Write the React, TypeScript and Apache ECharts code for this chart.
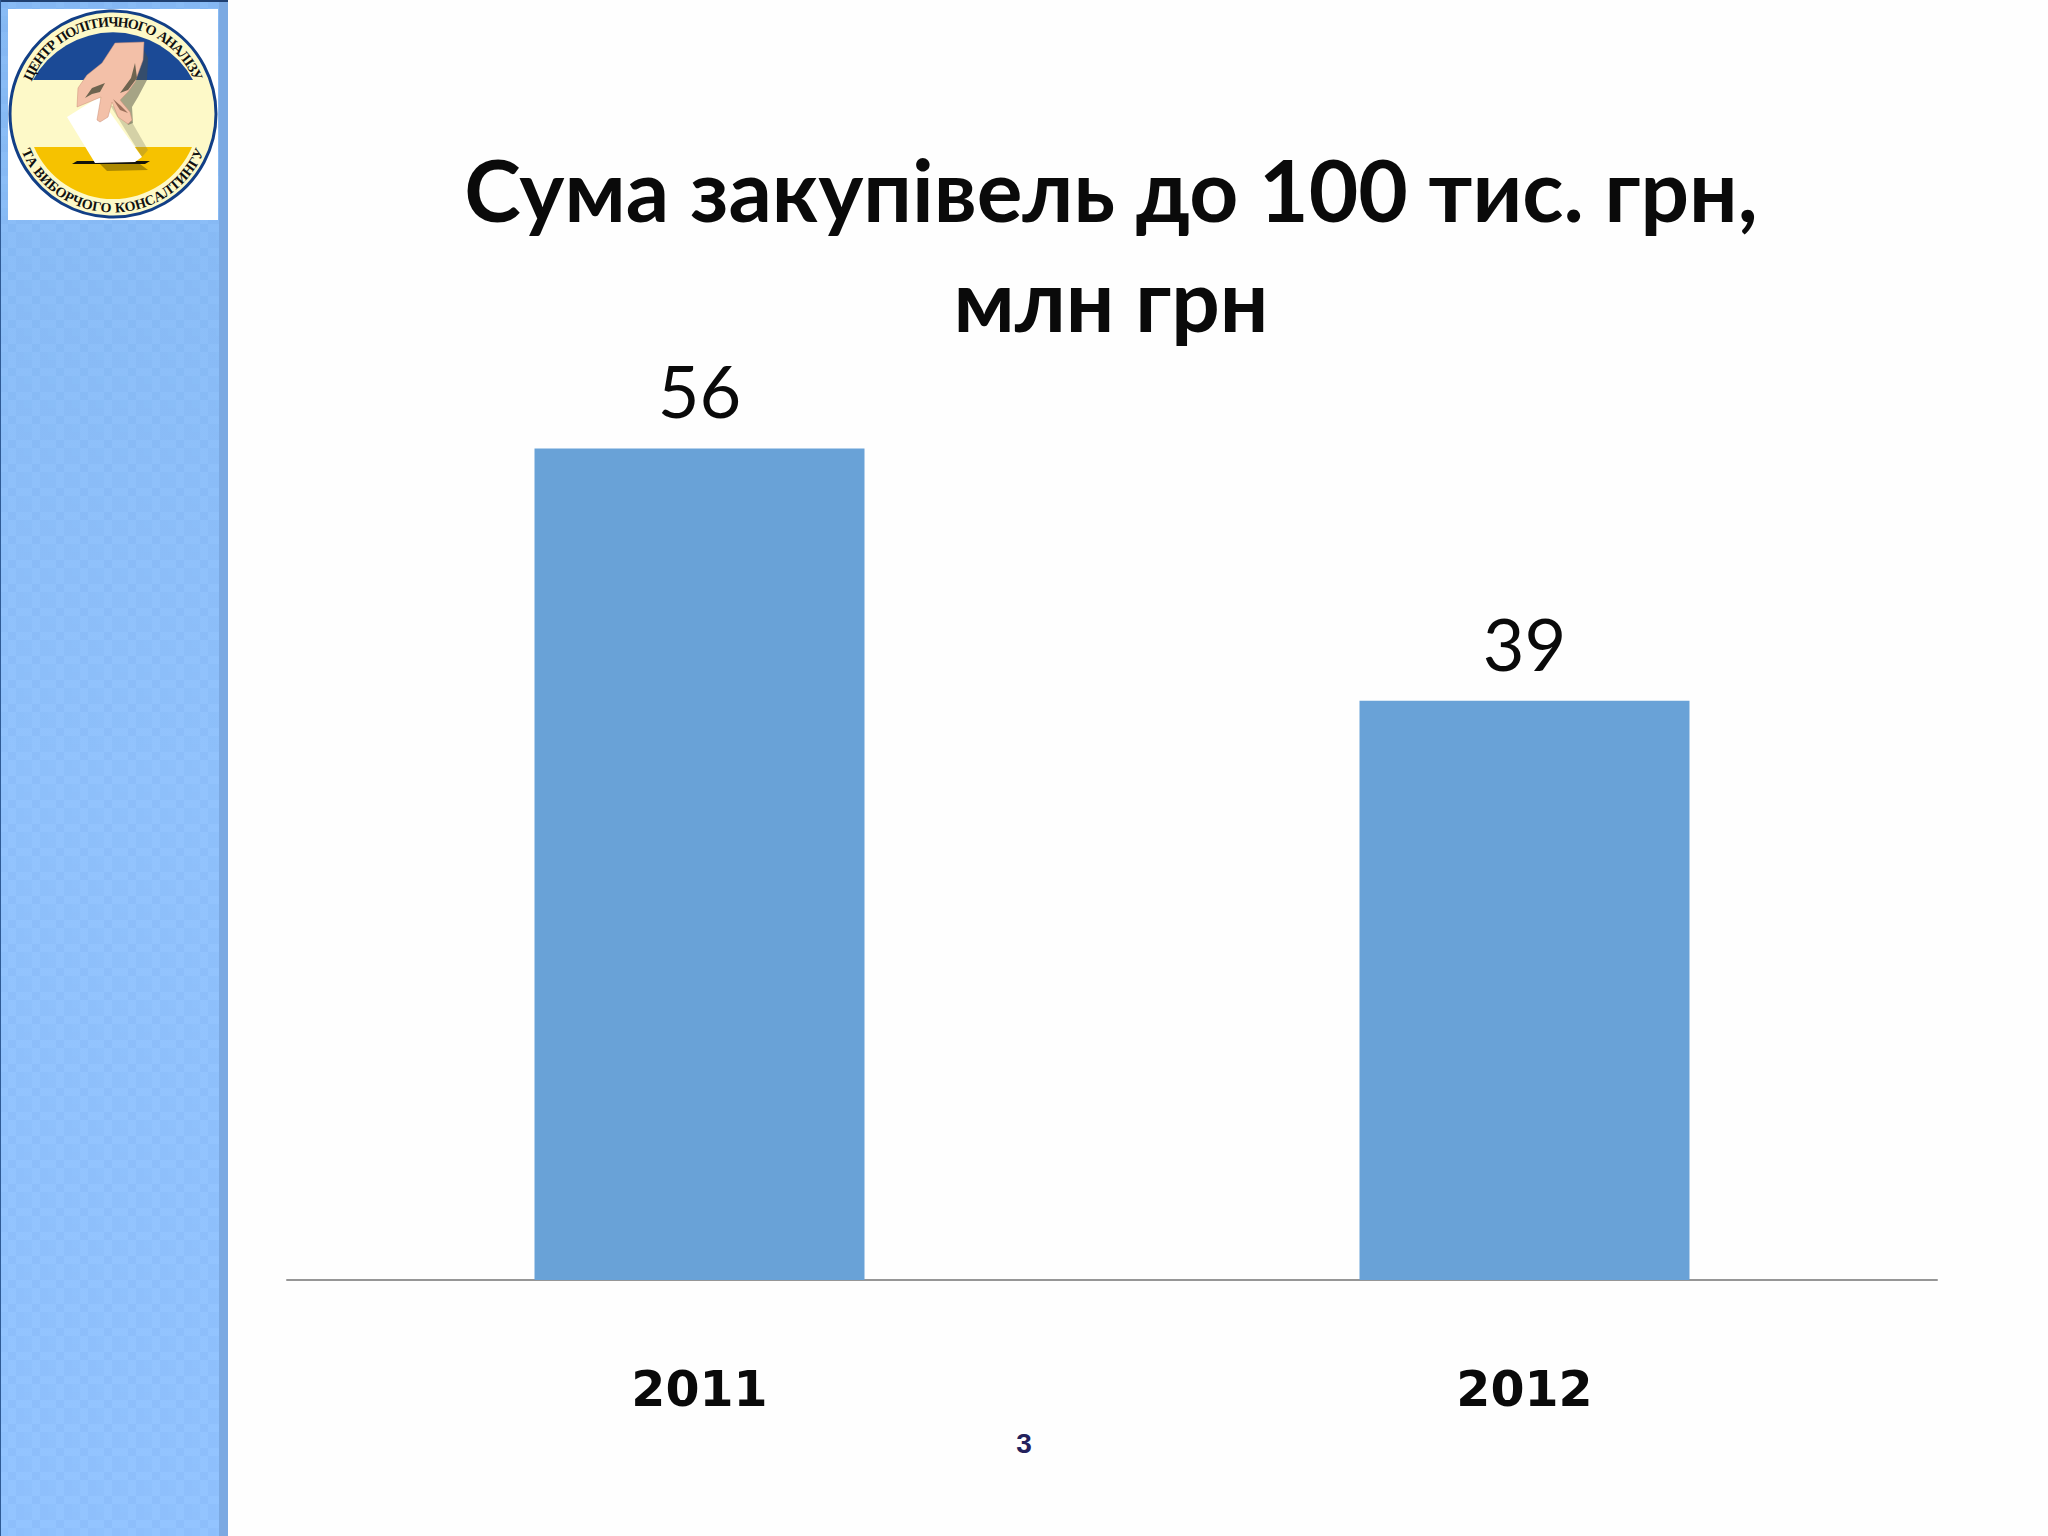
import React, { useEffect, useRef } from "react";
import * as echarts from "echarts";

const categories = ["2011", "2012"];
const values = [56, 39];
const titleLines = ["Сума закупівель до 100 тис. грн,", "млн грн"];
const pageNumber = "3";
const logoTop = "ЦЕНТР ПОЛІТИЧНОГО АНАЛІЗУ";
const logoBottom = "ТА ВИБОРЧОГО КОНСАЛТИНГУ";

const S: [string, string][] = [
  ["lgBlue", "M33 80 A91 91 0 0 1 193 80 Z"],
  ["lgYellow", "M34 147 L192 147 A86 86 0 0 1 34 147 Z"],
  ["lgHandShadow", "M144 50 L148 58 L147 80 L138 97 L132 107 L133 123 L128 125 L120 100 L135 82 L143 60 Z"],
  ["lgBallotShadow", "M110 105 L125 110 L148 150 L142 157 Z"],
  ["lgHand", "M115 43 L144 42 L143 60 L135 82 L128 92 L120 100 L130 112 L132 120 L128 124 L118 117 L112 102 L108 117 L100 122 L97 120 L101 97 L77 107 L78 88 L87 75 L102 63 Z"],
  ["lgStreakA", "M85 98 L92 88 L105 83 L100 92 L92 94 Z"],
  ["lgStreakB", "M120 93 L131 78 L135 63 L137 78 L128 90 Z"],
  ["lgStreakC", "M113 99 L121 106 L128 113 L120 110 Z"],
  ["lgBallot", "M67 117 L99 97 L142 157 L135 162 L95 163 Z"],
  ["lgSlot", "M72 164 L77 161 L150 161 L145 164 Z"],
  ["lgShade", "M100 164 L140 164 L148 170 L107 171 Z"],
];
S.forEach(([n, d]) => echarts.graphic.registerShape(n, echarts.graphic.extendPath(d, {})));

const LOGO_FONT = "bold 14px 'Liberation Serif'";
const arcText = (text: string, bottom: boolean) => {
  const ctx = document.createElement("canvas").getContext("2d")!;
  ctx.font = LOGO_FONT;
  const widths = text.split("").map((ch) => ctx.measureText(ch).width + 0.6);
  const total = widths.reduce((a, b) => a + b, 0);
  const cx = 113, cy = 114, r = bottom ? 94 : 92, span = 136 * Math.PI / 180;
  let run = 0;
  return text.split("").map((ch, i) => {
    const t = -span / 2 + span * (run + widths[i] / 2) / total;
    run += widths[i];
    const a = bottom ? Math.PI - t : t;
    return {
      type: "text", silent: true, x: cx + r * Math.sin(a), y: cy - r * Math.cos(a),
      rotation: bottom ? t : -t,
      style: { text: ch, fill: "#111", font: LOGO_FONT, textAlign: "center", textVerticalAlign: "middle" },
    };
  });
};

const shape = (type: string, fill: string, extra: any = {}) => ({ type, silent: true, style: { fill, ...extra } });

// Mottled sidebar texture: a small tile of soft squares.
const textureTile = () => {
  const size = 24, cell = 8;
  const c = document.createElement("canvas");
  c.width = size; c.height = size;
  const g = c.getContext("2d")!;
  const shades = [0.05, 0, 0.06, 0, 0.07, 0, 0.04, 0, 0.06];
  shades.forEach((alpha, i) => {
    g.fillStyle = `rgba(60,120,200,${alpha})`;
    g.fillRect((i % 3) * cell, Math.floor(i / 3) * cell, cell, cell);
  });
  return c.toDataURL();
};

export default function App() {
  const ref = useRef<HTMLDivElement>(null);
  useEffect(() => {
    const chart = echarts.init(ref.current!, null, { renderer: "svg" });
    chart.setOption({
      animation: false,
      backgroundColor: "#fefefe",
      title: {
        text: titleLines.join("\n"), left: 1106, top: 129, textAlign: "center",
        textStyle: { fontFamily: "Lato", fontWeight: "bold", fontSize: 85.5, lineHeight: 110, color: "#0a0a0a" },
      },
      grid: { left: 287, right: 111, top: 389, bottom: 256 },
      xAxis: {
        type: "category", data: categories,
        axisTick: { show: false },
        axisLine: { lineStyle: { color: "#969696", width: 2 } },
        axisLabel: { margin: 85, fontFamily: "DejaVu Sans", fontWeight: "bold", fontSize: 49, color: "#0a0a0a" },
      },
      yAxis: { type: "value", min: 0, max: 60, show: false, splitLine: { show: false } },
      series: [{
        type: "bar", data: values, barWidth: "40%",
        itemStyle: { color: "#69a2d7" },
        label: { show: true, position: "top", distance: 22, fontFamily: "Lato", fontSize: 72, color: "#0a0a0a" },
      }],
      graphic: [
        { type: "rect", silent: true, shape: { x: 0, y: 0, width: 228, height: 1536 },
          style: { fill: new echarts.graphic.LinearGradient(0, 0, 0, 1, [{ offset: 0, color: "#88bbf5" }, { offset: 0.5, color: "#92c3fd" }, { offset: 1, color: "#93c4ff" }]) } },
        { type: "rect", silent: true, shape: { x: 0, y: 0, width: 219, height: 1536 },
          style: { fill: { image: textureTile(), repeat: "repeat", imageWidth: 24, imageHeight: 24 } } },
        { type: "rect", silent: true, shape: { x: 219, y: 0, width: 9, height: 1536 }, style: { fill: "#7ba9e2" } },
        { type: "rect", silent: true, shape: { x: 0, y: 0, width: 228, height: 2 }, style: { fill: "#1f3f70" } },
        { type: "rect", silent: true, shape: { x: 0, y: 0, width: 1, height: 1536 }, style: { fill: "#2f5a94" } },
        { type: "rect", silent: true, shape: { x: 8, y: 9, width: 210, height: 211 }, style: { fill: "#ffffff" } },
        { type: "circle", silent: true, shape: { cx: 113, cy: 114, r: 103 }, style: { fill: "#fdf9c8", stroke: "#123f86", lineWidth: 3 } },
        shape("lgBlue", "#1b4a96"),
        shape("lgYellow", "#f6c200"),
        shape("lgBallotShadow", "#77735a", { opacity: 0.3 }),
        shape("lgHandShadow", "#4f4f42", { opacity: 0.5 }),
        shape("lgShade", "#7c6200", { opacity: 0.6 }),
        shape("lgSlot", "#14140c"),
        shape("lgBallot", "#ffffff"),
        shape("lgHand", "#f3c0a8", { stroke: "#c98f78", lineWidth: 0.5 }),
        shape("lgStreakA", "#6e6450"),
        shape("lgStreakB", "#6e6450"),
        shape("lgStreakC", "#9a6f5a"),
        ...arcText(logoTop, false),
        ...arcText(logoBottom, true),
        { type: "text", silent: true, x: 1024, y: 1443,
          style: { text: pageNumber, fill: "#24215c", font: "bold 28px 'Liberation Sans'", textAlign: "center", textVerticalAlign: "middle" } },
      ],
    });
    return () => chart.dispose();
  }, []);
  return <div ref={ref} style={{ position: "absolute", left: 0, top: 0, width: 2048, height: 1536 }} />;
}
